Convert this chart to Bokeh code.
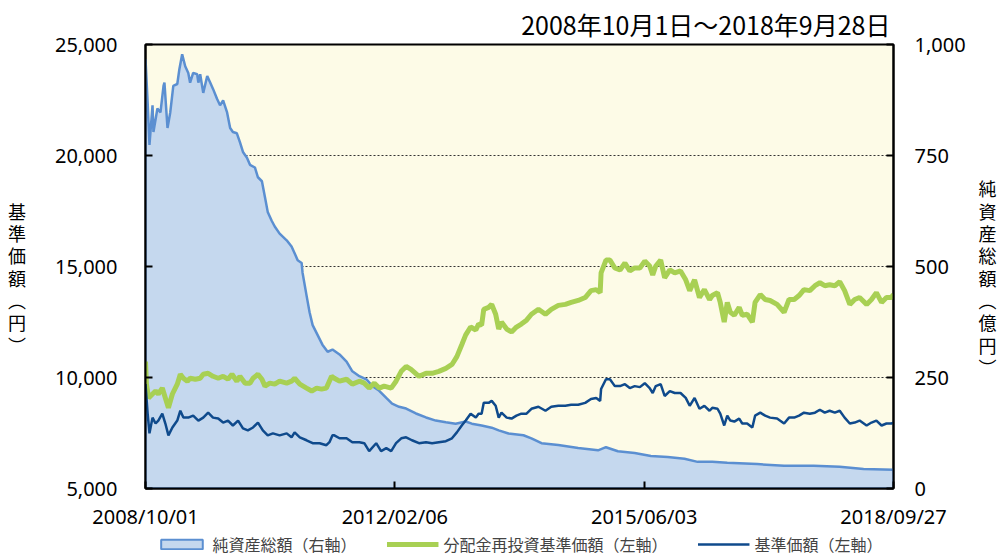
from bokeh.plotting import figure
from bokeh.models import (LinearAxis, Range1d, FixedTicker, Legend, LegendItem,
                          NumeralTickFormatter)
from bokeh.layouts import column
from bokeh.embed import file_html
from bokeh.resources import INLINE

TITLE = "2008年10月1日～2018年9月28日"
tick_days = [0, 816, 1632, 2448]
tick_labels = ["2008/10/01", "2012/02/06", "2015/06/03", "2018/09/27"]
left_ticks = [5000, 10000, 15000, 20000, 25000]
right_ticks = [0, 250, 500, 750, 1000]
grid_ticks = [10000, 15000, 20000]

# 純資産総額 (億円) : (trading-day index, value)
net_assets = [(0,967),(7,869),(13,774),(23,863),(26,803),(39,856),(49,847),(59,907),(62,914),
    (72,812),(81,847),(91,907),(104,911),(111,945),(120,978),(130,951),(140,936),(146,914),
    (156,936),(169,933),(173,914),(179,933),(189,891),(202,929),(212,914),(221,900),(234,878),
    (244,863),(254,874),(267,847),(277,812),(286,803),(299,800),(309,780),(319,758),(332,745),
    (342,729),(358,723),(368,701),(381,692),(391,656),(400,623),(413,603),(423,590),(439,574),
    (462,559),(478,545),(488,530),(498,514),(511,508),(514,486),(527,435),(537,397),(547,368),
    (563,346),(579,324),(596,308),(612,313),(635,302),(658,286),(677,264),(700,253),(723,246),
    (742,231),(765,220),(788,204),(807,191),(830,184),(853,180),(885,169),(918,160),(950,153),
    (983,149),(1015,146),(1048,151),(1068,146),(1100,142),(1133,137),(1156,131),(1188,124),
    (1237,120),(1263,113),(1296,102),(1351,98),(1416,91),(1481,86),(1507,93),(1546,84),
    (1601,80),(1654,73),(1709,71),(1764,67),(1807,60),(1855,60),(1904,58),(2002,55),(2090,51),
    (2187,51),(2272,49),(2350,44),(2448,42)]

# 分配金再投資基準価額 (円)
reinvested = [(0,10720),(3,9700),(10,9080),(23,9257),(33,9390),(42,9257),(55,9523),(65,9080),
    (75,8636),(88,9257),(104,9700),(114,10144),(124,9967),(137,9834),(146,9967),(163,9922),
    (179,9967),(189,10144),(205,10188),(221,10055),(238,9967),(254,10055),(270,9922),(283,10144),
    (299,9834),(309,10055),(326,9745),(342,9745),(352,9967),(368,10144),(381,9922),(391,9612),
    (407,9745),(423,9700),(439,9834),(462,9745),(478,9834),(488,9967),(505,9700),(527,9523),
    (544,9390),(560,9523),(576,9478),(592,9523),(609,10055),(618,9967),(635,9834),(658,9922),
    (677,9700),(700,9834),(716,9745),(732,9523),(749,9745),(765,9523),(781,9612),(804,9523),
    (820,9834),(837,10277),(853,10499),(869,10366),(895,10055),(918,10188),(938,10188),
    (960,10277),(983,10410),(1003,10588),(1019,10942),(1035,11474),(1048,11918),(1064,12273),
    (1081,12140),(1090,12406),(1100,12361),(1107,13071),(1123,13160),(1133,13293),(1146,12850),
    (1156,12184),(1165,12495),(1182,12184),(1198,12051),(1214,12273),(1230,12406),(1247,12583),
    (1263,12850),(1286,13071),(1309,12850),(1328,13071),(1351,13248),(1374,13293),(1393,13381),
    (1416,13470),(1439,13602),(1458,13913),(1475,13957),(1488,13825),(1491,14712),(1507,15288),
    (1520,15288),(1536,14934),(1553,14845),(1569,15155),(1585,14801),(1601,14934),(1618,14934),
    (1634,15243),(1650,15022),(1660,14623),(1670,15022),(1686,15288),(1699,14490),(1716,14845),
    (1732,14712),(1751,14801),(1768,14401),(1781,13913),(1797,14401),(1813,13602),(1829,13957),
    (1846,13514),(1855,13692),(1872,13825),(1881,13381),(1894,12495),(1904,13381),(1914,12938),
    (1927,12805),(1943,13160),(1953,12805),(1969,12850),(1986,12495),(1995,13381),(2012,13736),
    (2028,13514),(2044,13470),(2067,13293),(2090,12938),(2106,13514),(2123,13514),(2139,13692),
    (2155,13957),(2174,13913),(2191,14135),(2207,14268),(2223,14135),(2239,14179),(2256,14135),
    (2272,14313),(2288,13913),(2305,13293),(2321,13514),(2337,13602),(2360,13293),(2376,13514),
    (2392,13825),(2409,13381),(2425,13602),(2441,13602),(2448,13736)]

# 基準価額 (円)
nav = [(0,9700),(7,8370),(13,7483),(23,8193),(33,7927),(42,8060),(55,8370),(65,7927),(75,7395),
    (88,7749),(104,8060),(114,8503),(124,8193),(140,8193),(156,8281),(173,8060),(189,8193),
    (205,8415),(221,8193),(238,8149),(254,7971),(270,8060),(286,7838),(303,8060),(319,7705),
    (335,7616),(352,7749),(368,7971),(384,7616),(400,7395),(417,7483),(439,7395),(462,7483),
    (478,7306),(488,7528),(505,7306),(527,7173),(547,7040),(570,7040),(592,6951),(602,7085),
    (612,7395),(618,7395),(635,7262),(658,7262),(677,7085),(700,7085),(716,7040),(732,6685),
    (755,7040),(771,6685),(788,6818),(804,6685),(820,7040),(837,7262),(853,7306),(872,7173),
    (895,7040),(918,7085),(938,7040),(960,7085),(983,7129),(1003,7262),(1019,7528),(1035,7838),
    (1048,8060),(1064,8370),(1081,8193),(1090,8370),(1100,8370),(1107,8858),(1123,8858),
    (1133,8947),(1146,8725),(1156,8193),(1165,8415),(1182,8193),(1198,8149),(1214,8281),
    (1230,8370),(1247,8370),(1263,8592),(1286,8681),(1309,8503),(1328,8681),(1351,8725),
    (1374,8725),(1393,8769),(1416,8769),(1439,8858),(1458,9035),(1475,9080),(1488,8947),
    (1491,9479),(1507,9922),(1520,9922),(1536,9612),(1553,9612),(1569,9700),(1585,9523),
    (1601,9612),(1618,9567),(1634,9745),(1650,9523),(1660,9301),(1670,9612),(1686,9700),
    (1699,9168),(1716,9390),(1732,9301),(1751,9301),(1768,9080),(1781,8725),(1797,9080),
    (1813,8592),(1829,8725),(1846,8503),(1855,8636),(1872,8592),(1881,8370),(1894,7838),
    (1904,8281),(1914,8060),(1927,8015),(1943,8149),(1953,7927),(1969,7927),(1986,7749),
    (1995,8281),(2012,8415),(2028,8281),(2044,8193),(2067,8149),(2090,7927),(2106,8193),
    (2123,8193),(2139,8281),(2155,8415),(2174,8370),(2191,8415),(2207,8548),(2223,8415),
    (2239,8503),(2256,8415),(2272,8503),(2288,8193),(2305,7927),(2321,7971),(2337,8060),
    (2360,7838),(2376,7971),(2392,8060),(2409,7838),(2425,7927),(2441,7927),(2448,7971)]

legend_labels = ["純資産総額（右軸）", "分配金再投資基準価額（左軸）", "基準価額（左軸）"]
left_axis_label = "基準価額︵円︶"
right_axis_label = "純資産総額︵億円︶"

na_x = [d for d, v in net_assets]; na_y = [v for d, v in net_assets]
rv_x = [d for d, v in reinvested]; rv_y = [v for d, v in reinvested]
nv_x = [d for d, v in nav]; nv_y = [v for d, v in nav]
# closed outline of the net-asset area (down to the 0 baseline)
patch_x = na_x + [na_x[-1], na_x[0]]
patch_y = na_y + [right_ticks[0], right_ticks[0]]

CJK = "Noto Sans CJK JP"
NUM = "Noto Sans"

area_color = "#c5d8ee"
area_line = "#5b8fd1"
green = "#a8d054"
dark = "#0f4a8c"

p = figure(width=999, height=532, output_backend="svg", toolbar_location=None,
           x_range=Range1d(tick_days[0], tick_days[-1]), y_range=Range1d(5000, 25000),
           min_border_left=145, min_border_right=102, min_border_top=38, min_border_bottom=43)
p.extra_y_ranges = {"right": Range1d(0, 1000)}

p.title.text = TITLE
p.title.align = "right"
p.title.text_font = CJK
p.title.text_font_size = "25px"
p.title.text_font_style = "normal"
p.title.text_color = "black"
p.title.standoff = 6
p.title.offset = 3

p.background_fill_color = "#fdfbe7"
p.border_fill_color = "white"
p.outline_line_color = "black"
p.outline_line_width = 2

p.xgrid.visible = False
p.ygrid.ticker = FixedTicker(ticks=grid_ticks)
p.ygrid.grid_line_color = "#333333"
p.ygrid.grid_line_dash = "2 2"
p.ygrid.grid_line_width = 1

p.patch(patch_x, patch_y, y_range_name="right", fill_color=area_color,
        line_color=area_line, line_width=2.5)
p.line(rv_x, rv_y, line_color=green, line_width=5)
p.line(nv_x, nv_y, line_color=dark, line_width=2.5)

def style_axis(ax, standoff):
    ax.axis_line_color = "black"
    ax.axis_line_width = 2
    ax.major_tick_in = 7
    ax.major_tick_out = 0
    ax.major_tick_line_width = 2
    ax.minor_tick_line_color = None
    ax.major_label_text_font = NUM
    ax.major_label_text_font_size = "20px"
    ax.major_label_text_color = "black"
    ax.major_label_standoff = standoff

def vertical_label(ax, txt, standoff):
    ax.axis_label = "\n" + "\n".join(txt)
    ax.axis_label_orientation = "horizontal"
    ax.axis_label_text_font = CJK
    ax.axis_label_text_font_size = "18px"
    ax.axis_label_text_font_style = "normal"
    ax.axis_label_text_color = "black"
    ax.axis_label_text_line_height = 0.86
    ax.axis_label_standoff = standoff

xa = p.xaxis[0]
xa.ticker = FixedTicker(ticks=tick_days)
xa.major_label_overrides = {d: l for d, l in zip(tick_days, tick_labels)}
style_axis(xa, 14)

ya = p.yaxis[0]
ya.ticker = FixedTicker(ticks=left_ticks)
ya.formatter = NumeralTickFormatter(format="0,0")
style_axis(ya, 28)
vertical_label(ya, left_axis_label, 26)

ra = LinearAxis(y_range_name="right", ticker=FixedTicker(ticks=right_ticks),
                formatter=NumeralTickFormatter(format="0,0"))
style_axis(ra, 21)
vertical_label(ra, right_axis_label, 10)
p.add_layout(ra, "right")

# legend strip: a small figure whose view range lies outside the data, holding the legend
lf = figure(width=999, height=24, output_backend="svg", toolbar_location=None,
            x_range=Range1d(-20, -10), y_range=Range1d(-20, -10),
            x_axis_type=None, y_axis_type=None, min_border=0,
            outline_line_color=None, background_fill_color="white")
lf.grid.visible = False
r_area = lf.patch(patch_x, patch_y, fill_color=area_color, line_color=area_line, line_width=2)
r_green = lf.line(rv_x, rv_y, line_color=green, line_width=5)
r_dark = lf.line(nv_x, nv_y, line_color=dark, line_width=2.5)
legend = Legend(items=[LegendItem(label=legend_labels[0], renderers=[r_area]),
                       LegendItem(label=legend_labels[1], renderers=[r_green]),
                       LegendItem(label=legend_labels[2], renderers=[r_dark])],
                orientation="horizontal", location="center",
                label_text_font=CJK, label_text_font_size="16px",
                glyph_width=52, glyph_height=12, label_standoff=5, spacing=30,
                padding=0, margin=0, border_line_color=None,
                background_fill_alpha=0, label_height=18)
lf.add_layout(legend, "center")

layout = column(p, lf, spacing=0)
open("out.html", "w").write(file_html(layout, INLINE))
